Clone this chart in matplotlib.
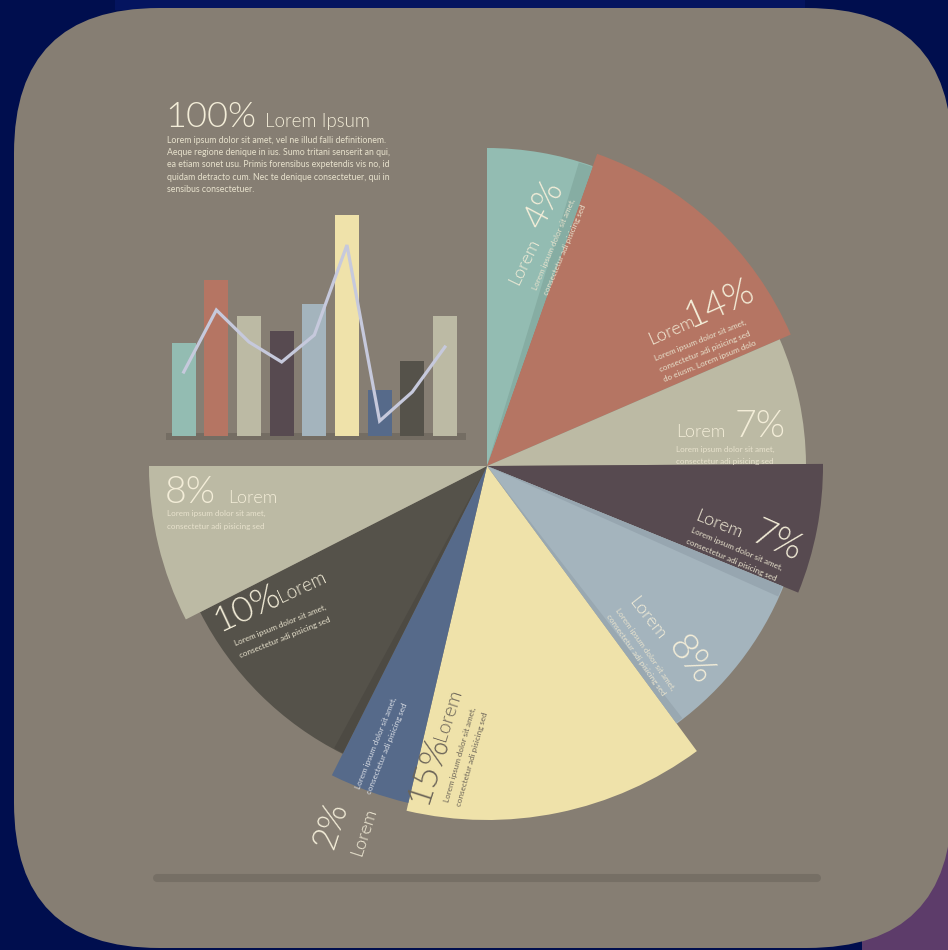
import matplotlib
matplotlib.use("Agg")
import matplotlib.pyplot as plt
from matplotlib.patches import Wedge, FancyBboxPatch, Rectangle
import numpy as np

plt.rcParams["font.family"] = ["Lato", "DejaVu Sans"]

# pie slices, clockwise from 12 o'clock (share of a full circle, in %)
labels = ["4%", "14%", "7%", "7%", "8%", "15%", "2%", "10%", "8%"]
shares = [5.4, 13.1, 6.4, 6.25, 8.75, 13.75, 3.75, 10.1, 7.5]
radii = [318, 331, 319, 336, 320, 354, 346, 322, 338]
colors = ["#93bcb2", "#b57563", "#bcbaa4", "#574a50", "#a4b4bd",
          "#efe2aa", "#566a8a", "#55524a", "#bcbaa4"]

# small bar chart + line
bar_heights = [93, 156, 120, 105, 132, 221, 46, 75, 120]
line_values = [64, 126, 94, 74, 101, 191, 15, 44, 89]

body = ["Lorem ipsum dolor sit amet, vel ne illud falli definitionem.",
        "Aeque regione denique in ius. Sumo tritani senserit an qui,",
        "ea etiam sonet usu. Primis forensibus expetendis vis no, id",
        "quidam detracto cum. Nec te denique consectetuer, qui in",
        "sensibus consectetuer."]
small2 = ["Lorem ipsum dolor sit amet,", "consectetur adi pisicing sed"]
small3 = small2 + ["do eiusm. Lorem ipsum dolo"]

NAVY = "#000e4e"
CARD = "#867e73"
CREAM = "#f3edd8"
SMALL = "#e8e2cd"
DARKTXT = "#6b6458"

W, H = 948, 950
fig = plt.figure(figsize=(W / 100, H / 100), dpi=100)
fig.patch.set_facecolor(NAVY)
ax = fig.add_axes([0, 0, 1, 1])
ax.set_xlim(0, W)
ax.set_ylim(0, H)
ax.axis("off")


def Y(y):
    return H - y


# background pieces
ax.add_patch(Rectangle((115, Y(10)), 690, 10, color="#04145f", lw=0))
ax.add_patch(Rectangle((862, 0), 90, Y(825), color="#5d3c6a", lw=0))
ax.add_patch(FancyBboxPatch((14 + 145, Y(948) + 145), 938 - 290, 940 - 290,
                            boxstyle="round,pad=145", color=CARD, lw=0))
ax.plot([157, 817], [Y(878), Y(878)], color="#766f65", lw=5.8,
        solid_capstyle="round")

# pie wedges
cx, cy = 487, Y(466)
start = 90.0
spans = []
for s, r, c in zip(shares, radii, colors):
    d = s / 100 * 360
    ax.add_patch(Wedge((cx, cy), r, start - d, start, color=c, lw=0))
    spans.append((start - d, start))
    start -= d

# shading strips where slices overlap
t1, t2 = spans[0]
ax.add_patch(Wedge((cx, cy), radii[0] - 1, t1, t1 + 2.6, color="#86ada3", lw=0))
t1, t2 = spans[4]
ax.add_patch(Wedge((cx, cy), radii[4] - 1, t2 - 2.0, t2, color="#97a6b0", lw=0))
ax.add_patch(Wedge((cx, cy), radii[4] - 1, t1, t1 + 1.4, color="#99a8b1", lw=0))
t1, t2 = spans[7]
ax.add_patch(Wedge((cx, cy), radii[7] - 1, t2 - 1.8, t2, color="#4d4a43", lw=0))


def txt(x, y, s, size, rot=0, color=CREAM, weight=300):
    ax.text(x, Y(y), s, fontsize=size, rotation=rot, rotation_mode="anchor",
            ha="left", va="baseline", color=color, fontweight=weight)


def lines(x, y, rows, rot, step, color=SMALL, size=5.8):
    a = np.deg2rad(rot)
    dx, dy = np.sin(a) * step, np.cos(a) * step
    for i, row in enumerate(rows):
        txt(x + dx * i, y + dy * i, row, size, rot, color, "normal")


# header
txt(165, 127, "100%", 26)
txt(265, 127, "Lorem Ipsum", 13.5)
lines(167, 143, body, 0, 12.2, size=6.3)

# slice labels
txt(518, 286, "Lorem", 13, 64)
txt(541, 231, labels[0], 26, 62)
lines(537, 291, small2, 67, 12)

txt(651, 345, "Lorem", 13, 24)
txt(690, 328, labels[1], 27, 24)
lines(656, 361, small3, 22, 11.5)

txt(676, 437, "Lorem", 13)
txt(735, 437, labels[2], 27)
lines(676, 452, small2, 0, 12)

txt(694, 520, "Lorem", 13, -22)
txt(750, 541, labels[3], 27, -24)
lines(690, 532, small2, -23, 11.5)

txt(628, 602, "Lorem", 13, -52)
txt(667, 647, labels[4], 27, -52)
lines(615, 610, small2, -55, 11.5)

txt(426, 806, labels[5], 26, 72, color=DARKTXT)
txt(445, 742, "Lorem", 14, 72, color=DARKTXT)
lines(449, 803, small2, 74, 13, color=DARKTXT)

lines(360, 790, small2, 68, 11.5, color="#d9dde4")
txt(333, 850, labels[6], 25, 72)
txt(361, 857, "Lorem", 13, 72)

txt(219, 632, labels[7], 26, 25)
txt(281, 603, "Lorem", 13.5, 25)
lines(236, 646, small2, 22, 12.5)

txt(165, 503, labels[8], 27)
txt(228, 503, "Lorem", 13)
lines(167, 516, small2, 0, 13.5)

# bar chart inset
x0_px, x1_px, base_px, top_px = 166, 466, 441, 200
ax_bar = fig.add_axes([x0_px / W, (H - base_px) / H, (x1_px - x0_px) / W,
                       (base_px - top_px) / H])
ax_bar.set_xlim((x0_px - 183.7) / 32.65, (x1_px - 183.7) / 32.65)
ax_bar.set_ylim(-5, 236)
ax_bar.axis("off")
ax_bar.axhspan(-4, 2.7, color="#746d63", lw=0)
xs = np.arange(len(bar_heights))
ax_bar.bar(xs, bar_heights, width=0.735, color=colors, zorder=2)
ax_bar.plot(xs, line_values, color="#c6c9dc", lw=2.3, zorder=3,
            solid_joinstyle="miter")

fig.savefig("out.png", dpi=100, facecolor=NAVY)
